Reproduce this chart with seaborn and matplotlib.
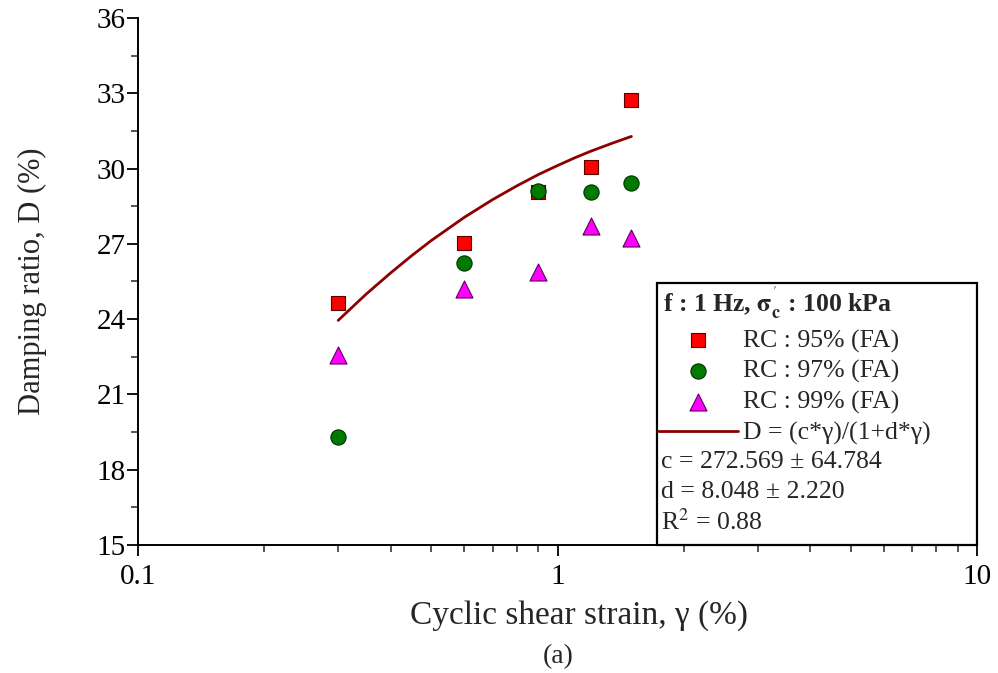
import matplotlib
matplotlib.use("Agg")
import matplotlib.pyplot as plt
import seaborn as sns
import numpy as np
import pandas as pd
from matplotlib.ticker import LogLocator, MultipleLocator, FuncFormatter, NullFormatter
from matplotlib.patches import Rectangle

# ---- data ----
strain = [0.3, 0.6, 0.9, 1.2, 1.5]
d_rc95 = [24.66, 27.02, 29.08, 30.05, 32.75]
d_rc97 = [19.30, 26.25, 29.10, 29.06, 29.42]
d_rc99 = [22.57, 25.19, 25.89, 27.71, 27.25]

fit_strain = [0.30, 0.35, 0.40, 0.45, 0.50, 0.60, 0.70, 0.80, 0.90, 1.00, 1.10, 1.20, 1.35, 1.50]
fit_damp = [23.95, 25.00, 25.84, 26.54, 27.13, 28.06, 28.76, 29.31, 29.76, 30.12, 30.43, 30.69, 31.01, 31.28]

labels = ["RC : 95% (FA)", "RC : 97% (FA)", "RC : 99% (FA)"]
fit_label = "D = (c*γ)/(1+d*γ)"
legend_title = r"f : 1 Hz, $\mathbf{\sigma}^{'}_{\mathbf{c}}$ : 100 kPa"
fit_params = ["c = 272.569 ± 64.784", "d = 8.048 ± 2.220", r"R$^2$ = 0.88"]
y_ticks = [15, 18, 21, 24, 27, 30, 33, 36]

sns.set_style("ticks")
plt.rcParams["font.family"] = ["Liberation Serif", "DejaVu Serif"]
plt.rcParams["mathtext.fontset"] = "stix"

fig = plt.figure(figsize=(9.98, 6.73), dpi=100)
ax = fig.add_axes([0.1383, 0.1902, 0.8407, 0.7831])

sns.scatterplot(x=strain, y=d_rc95, marker="s", color="#ff0000", edgecolor="#5a0000",
                linewidth=0.8, s=110, ax=ax, label=labels[0], zorder=3)
sns.scatterplot(x=strain, y=d_rc97, marker="o", color="#007a00", edgecolor="#003000",
                linewidth=0.8, s=120, ax=ax, label=labels[1], zorder=3)
sns.scatterplot(x=strain, y=d_rc99, marker="^", color="#ff00ff", edgecolor="#5a005a",
                linewidth=0.8, s=150, ax=ax, label=labels[2], zorder=3)
sns.lineplot(x=fit_strain, y=fit_damp, color="#8b0000", linewidth=2.0, sort=False,
             estimator=None, ax=ax, label=fit_label, zorder=2)

ax.set_xscale("log")
ax.set_xlim(0.1, 10)
ax.set_ylim(15, 36)
ax.set_yticks(y_ticks)
ax.yaxis.set_minor_locator(MultipleLocator(1.5))
ax.xaxis.set_major_locator(LogLocator(base=10, numticks=5))
ax.xaxis.set_minor_locator(LogLocator(base=10, subs=np.arange(2, 10), numticks=20))
ax.xaxis.set_major_formatter(FuncFormatter(lambda v, p: f"{v:g}"))
ax.xaxis.set_minor_formatter(NullFormatter())

sns.despine(ax=ax, top=True, right=True)
for sp in ["left", "bottom"]:
    ax.spines[sp].set_linewidth(1.4)
    ax.spines[sp].set_color("black")
ax.tick_params(which="major", direction="out", length=8, width=1.3, labelsize=21, colors="black")
ax.tick_params(which="minor", direction="out", length=5, width=1.1)
ax.tick_params(axis="y", which="major", pad=1)
ax.tick_params(axis="x", which="major", pad=6)

ax.set_xlabel("Cyclic shear strain, γ (%)", fontsize=24)
ax.set_ylabel("Damping ratio, D (%)", fontsize=22)
ax.xaxis.set_label_coords(0.525, -0.105)
ax.yaxis.set_label_coords(-0.108, 0.5)
fig.text(0.559, 0.025, "(a)", fontsize=20, ha="center", va="center")

# legend box
box = Rectangle((0.6186, 0.0), 0.3814, 0.497, transform=ax.transAxes, fill=False,
                edgecolor="black", linewidth=1.6, clip_on=False, zorder=4)
ax.add_patch(box)

leg = ax.legend(loc="upper left", bbox_to_anchor=(0.6140, 0.504), frameon=False,
                fontsize=18.5, title=legend_title, title_fontsize=18.5, alignment="left",
                handlelength=3.1, handletextpad=0.2, borderpad=0.2, borderaxespad=0.0,
                labelspacing=0.29, markerscale=1.0)
leg.get_title().set_fontweight("bold")
leg.get_title().set_x(5)

ys = [0.1575, 0.1006, 0.0436]
for t, yy in zip(fit_params, ys):
    ax.text(0.623, yy, t, transform=ax.transAxes, fontsize=18.5, ha="left", va="center")

fig.savefig("out.png", dpi=100)
